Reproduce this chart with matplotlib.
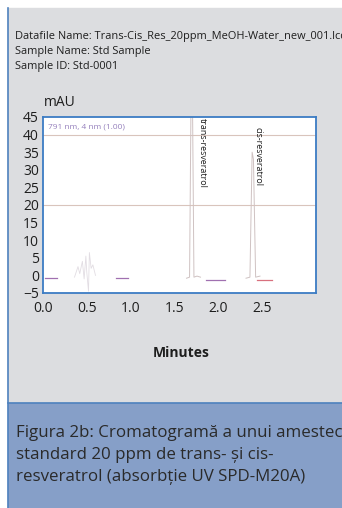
import matplotlib.pyplot as plt
from matplotlib.patches import Rectangle
from matplotlib.lines import Line2D

plt.rcParams['font.family'] = ['Open Sans', 'DejaVu Sans']

# chromatogram trace, read as (time, mAU) vertices
base1_t = [0.02, 0.16]
base1_y = [-0.8, -0.8]
base2_t = [0.84, 0.97]
base2_y = [-0.8, -0.8]
noise_t = [0.36, 0.40, 0.42, 0.45, 0.47, 0.49, 0.50, 0.52, 0.53, 0.55, 0.57, 0.60]
noise_y = [-0.5, 2.5, 0.5, 4.0, -1.0, 5.5, 1.0, -4.5, 6.5, 2.0, 3.0, 0.0]
trans_t = [1.64, 1.675, 1.695, 1.705, 1.725, 1.76, 1.80]
trans_y = [-0.8, -0.5, 60.0, 60.0, -0.5, -0.2, -0.5]
cis_t = [2.32, 2.365, 2.39, 2.405, 2.43, 2.48]
cis_y = [-0.8, -0.5, 35.0, 33.0, -0.5, -0.2]
base3_t = [1.86, 2.08]
base3_y = [-1.2, -1.2]
base4_t = [2.45, 2.62]
base4_y = [-1.2, -1.2]

peak_names = ['trans-resveratrol', 'cis-resveratrol']
peak_pos = [1.82, 2.46]
peak_label_y = [44.6, 42.2]

header = ['Datafile Name: Trans-Cis_Res_20ppm_MeOH-Water_new_001.lcd',
          'Sample Name: Std Sample',
          'Sample ID: Std-0001']
caption = ['Figura 2b: Cromatogramă a unui amestec',
           'standard 20 ppm de trans- și cis-',
           'resveratrol (absorbție UV SPD-M20A)']

W, H = 342, 508
fig = plt.figure(figsize=(W / 100, H / 100), dpi=100)

# background panels
fig.patches.append(Rectangle((8 / W, (H - 403) / H), 1, 395 / H,
                             transform=fig.transFigure, color='#dcdde0', zorder=-10))
fig.patches.append(Rectangle((8 / W, 0), 1, (H - 403) / H,
                             transform=fig.transFigure, color='#869fc8', zorder=-10))
fig.lines.append(Line2D([8 / W, 8 / W], [0, (H - 8) / H], transform=fig.transFigure,
                        color='#4f82be', lw=1.2, zorder=-5))
fig.lines.append(Line2D([8 / W, 1], [(H - 402.5) / H] * 2, transform=fig.transFigure,
                        color='#4f82be', lw=1.2, zorder=-5))

for i, line in enumerate(header):
    fig.text(15 / W, 1 - (36 + i * 15.5) / H, line, fontsize=7.95, color='#1e1e1e',
             va='center', ha='left')
for i, line in enumerate(caption):
    fig.text(16 / W, 1 - (433 + i * 22) / H, line, fontsize=12.2, color='#2a2a2a',
             va='center', ha='left')

ax = fig.add_axes([43 / W, 1 - 293 / H, 273 / W, 176 / H])
ax.set_facecolor('white')
ax.set_xlim(0, 3.12)
ax.set_ylim(-5, 45)
ax.set_yticks(range(-5, 50, 5))
ax.set_xticks([0.0, 0.5, 1.0, 1.5, 2.0, 2.5])
ax.set_xticklabels(['0.0', '0.5', '1.0', '1.5', '2.0', '2.5'])
ax.tick_params(length=0, labelsize=10, colors='#1e1e1e', pad=3)
ax.tick_params(axis='x', pad=6)
for s in ax.spines.values():
    s.set_color('#3c7cc4')
    s.set_linewidth(1.3)

ax.axhline(40, color='#d9c4bc', lw=0.8)
ax.axhline(20, color='#d9c4bc', lw=0.8)

ax.plot(noise_t, noise_y, color='#e2dde3', lw=0.6)
ax.plot(trans_t, trans_y, color='#cfc2c2', lw=0.7)
ax.plot(cis_t, cis_y, color='#cfc2c2', lw=0.7)
for t, y in [(base1_t, base1_y), (base2_t, base2_y), (base3_t, base3_y)]:
    ax.plot(t, y, color='#a070b0', lw=0.9)
ax.plot(base4_t, base4_y, color='#d8707e', lw=0.9)

ax.text(0.06, 42.3, '791 nm, 4 nm (1.00)', fontsize=6.0, color='#9580bc', va='center')
for name, x, y in zip(peak_names, peak_pos, peak_label_y):
    ax.text(x, y, name, rotation=270, fontsize=6.4, color='#1e1e1e',
            ha='center', va='top')

fig.text(60 / W, 1 - 103 / H, 'mAU', fontsize=10, color='#1e1e1e', ha='center', va='center')
fig.text(181 / W, 1 - 353 / H, 'Minutes', fontsize=10, fontweight='bold',
         color='#1e1e1e', ha='center', va='center')

fig.savefig('out.png', dpi=100)
